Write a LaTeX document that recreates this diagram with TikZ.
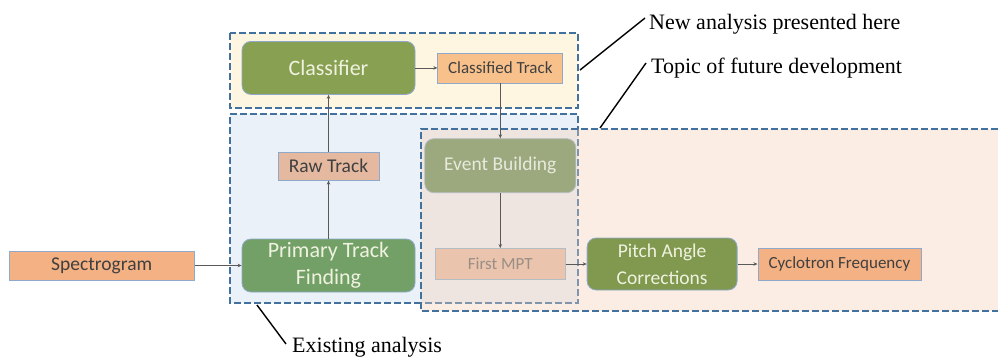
\documentclass[tikz,border=0pt]{standalone}
\usepackage{fontspec}
\setmainfont{Liberation Serif}
\newfontfamily\boxfont{Carlito}
\usetikzlibrary{positioning,arrows.meta}

\definecolor{yellowfill}{HTML}{FEF6E0}
\definecolor{bluefill}{HTML}{EAF1F9}
\definecolor{futurefill}{HTML}{FCEDE4}
\definecolor{overlapfill}{HTML}{EEE5E0}
\definecolor{regionline}{HTML}{41719C}
\definecolor{regionfade}{HTML}{7F95AC}
\definecolor{nodeline}{HTML}{8EA9C9}
\definecolor{fadeline}{HTML}{B4BCC4}
\definecolor{classgreen}{HTML}{88A051}
\definecolor{primgreen}{HTML}{72A067}
\definecolor{pitchgreen}{HTML}{80994F}
\definecolor{eventgreen}{HTML}{9CA87E}
\definecolor{greentext}{HTML}{F0F2E0}
\definecolor{eventtext}{HTML}{E8EADD}
\definecolor{specorange}{HTML}{F4B183}
\definecolor{classorange}{HTML}{F8C18B}
\definecolor{rawpink}{HTML}{E5B9A0}
\definecolor{mptpink}{HTML}{EAC4AC}
\definecolor{datatext}{HTML}{404040}
\definecolor{mpttext}{HTML}{9A8E86}
\definecolor{flowline}{HTML}{595959}

\tikzset{
  region/.style={draw=regionline, line width=1.6pt, dash pattern=on 7pt off 3pt},
  greenbox/.style={rounded corners=9pt, draw=nodeline, line width=0.8pt, minimum width=173pt,
    minimum height=53pt, inner sep=0pt, align=center, text=greentext},
  databox/.style={draw=nodeline, line width=0.8pt, inner sep=0pt, text=datatext},
  flow/.style={draw=flowline, line width=0.7pt, -{Stealth[length=4pt,width=3.5pt]}},
  leader/.style={line width=1.4pt},
  note/.style={anchor=base west, inner sep=0pt, font=\fontsize{22}{26}\selectfont}
}

\newcommand{\bigsans}{\boxfont\fontsize{22}{27}\selectfont}
\newcommand{\midsans}{\boxfont\fontsize{19.5}{27}\selectfont}
\newcommand{\smallsans}{\boxfont\fontsize{17}{20}\selectfont}

\begin{document}
\begin{tikzpicture}[x=1pt, y=-1pt]

  \useasboundingbox (0,0) rectangle (998,360);

  % Regions
  \fill[yellowfill]  (230,33)  rectangle (578,108);
  \fill[bluefill]    (230,114) rectangle (578,303);
  \fill[futurefill]  (421,129) rectangle (998,311);
  \fill[overlapfill] (421,129) rectangle (578,303);

  \draw[region] (230,33) rectangle (578,108);
  \draw[region] (421,303) -- (230,303) -- (230,114) -- (578,114) -- (578,129);
  \draw[region, draw=regionfade] (578,129) -- (578,303) -- (421,303);
  \draw[region] (998,129) -- (421,129) -- (421,311) -- (998,311);

  % Define nodes
  \node[greenbox, fill=primgreen, font=\bigsans] (primary) at (328.5,265.5) {Primary Track\\Finding};
  \node[databox, fill=specorange, minimum width=185pt, minimum height=29pt, font=\midsans,
        left=47pt of primary] (spectrogram) {Spectrogram};
  \node[databox, fill=rawpink, minimum width=101pt, minimum height=28pt, font=\midsans,
        above=58pt of primary] (raw-track) {Raw Track};
  \node[greenbox, fill=classgreen, font=\bigsans, above=57pt of raw-track] (classifier) {Classifier};
  \node[databox, fill=classorange, minimum width=125pt, minimum height=30pt, font=\smallsans,
        right=22pt of classifier] (classified-track) {Classified Track};
  \node[greenbox, fill=eventgreen, draw=fadeline, text=eventtext, minimum width=151pt, minimum height=54pt,
        font=\midsans, below=55pt of classified-track] (event-building) {Event Building};
  \node[databox, fill=mptpink, draw=fadeline, text=mpttext, minimum width=130pt, minimum height=31pt,
        font=\smallsans, below=55pt of event-building] (first-mpt) {First MPT};
  \node[greenbox, fill=pitchgreen, minimum width=150pt, minimum height=52pt, font=\midsans,
        right=21pt of first-mpt] (pitch-angle) {Pitch Angle\\Corrections};
  \node[databox, fill=specorange, minimum width=163pt, minimum height=32pt, font=\smallsans,
        right=20pt of pitch-angle] (cyclotron) {Cyclotron Frequency};

  % Connect the nodes
  \draw[flow] (spectrogram) -- (primary);
  \draw[flow] (primary) -- (raw-track);
  \draw[flow] (raw-track) -- (classifier);
  \draw[flow] (classifier) -- (classified-track.west |- classifier);
  \draw[flow] (classified-track) -- (event-building);
  \draw[flow] (event-building.south -| first-mpt) -- (first-mpt);
  \draw[flow] (first-mpt) -- (pitch-angle.west |- first-mpt);
  \draw[flow] (pitch-angle) -- (cyclotron);

  % Notes
  \node[note] (new-note)    at (649,29)  {New analysis presented here};
  \node[note] (future-note) at (651,73)  {Topic of future development};
  \node[note] (exist-note)  at (292,352) {Existing analysis};

  \coordinate (new-from)    at (580,70);
  \coordinate (new-to)      at (645,18);
  \coordinate (future-from) at (600,128);
  \coordinate (future-to)   at (646,63);
  \coordinate (exist-from)  at (257,305);
  \coordinate (exist-to)    at (286,344);

  \draw[leader] (new-from) -- (new-to);
  \draw[leader] (future-from) -- (future-to);
  \draw[leader] (exist-from) -- (exist-to);

\end{tikzpicture}
\end{document}
